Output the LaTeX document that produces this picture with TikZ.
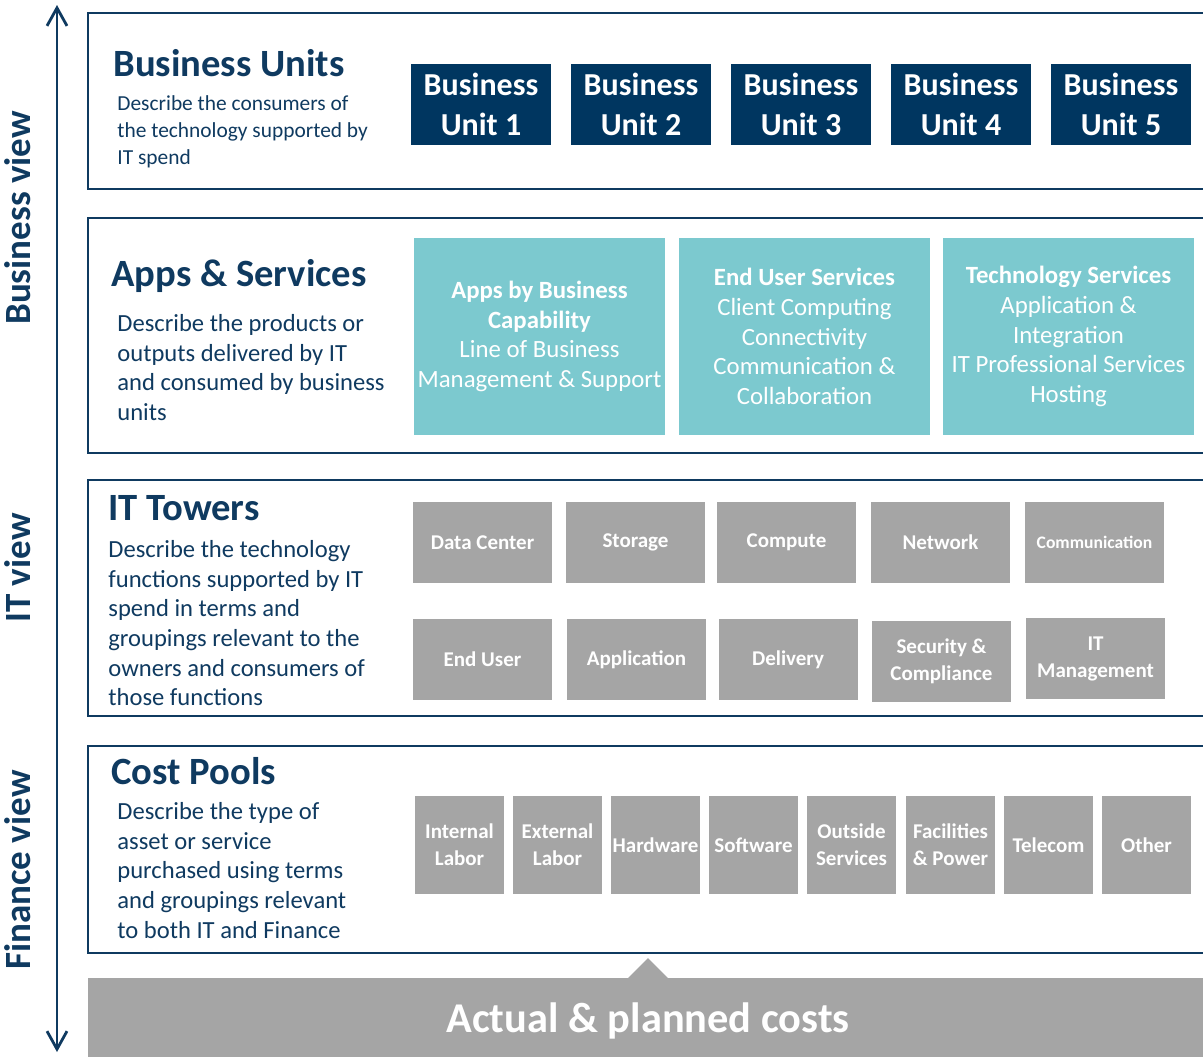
\documentclass[tikz,border=0pt]{standalone}
\usepackage{fontspec}
\setmainfont{Carlito}
\usetikzlibrary{arrows.meta}
\definecolor{navy}{HTML}{0F3A60}
\definecolor{unitblue}{HTML}{003660}
\definecolor{appteal}{HTML}{7CC9CF}
\definecolor{towergrey}{HTML}{A5A5A5}
\begin{document}
\begin{tikzpicture}[x=0.5pt,y=-0.5pt,
    every node/.style={inner sep=0pt,font=\fontsize{10.5}{13.5}\selectfont},
    layer/.style={draw=navy,line width=1.1pt},
    unit/.style={fill=unitblue,text=white,minimum width=70pt,minimum height=40.5pt,
      align=center,font=\fontsize{16}{20}\selectfont\bfseries},
    app/.style={fill=appteal,text=white,minimum width=125.5pt,minimum height=98.5pt,
      align=center,font=\fontsize{12.4}{14.8}\selectfont},
    tower/.style={fill=towergrey,text=white,minimum width=69.5pt,minimum height=40.5pt,
      align=center,font=\fontsize{10.5}{13.5}\selectfont\bfseries},
    pool/.style={tower,minimum width=44.5pt,minimum height=49pt},
    title/.style={anchor=west,text=navy,font=\fontsize{19.3}{23}\selectfont\bfseries},
    desc/.style={anchor=north west,align=left,text=navy,font=\fontsize{12.3}{14.85}\selectfont},
    view/.style={rotate=90,text=navy,font=\fontsize{18.5}{22}\selectfont\bfseries}]
    \useasboundingbox (0,0) rectangle (1203,1056);

    % View axis on the left
    \coordinate (top) at (57,5);
    \coordinate (bot) at (57,1052);
    \draw[navy,line width=1.4pt,
      {Straight Barb[length=9pt,width=10pt]}-{Straight Barb[length=9pt,width=10pt]}] (top) -- (bot);
    \node[view] (bv)  at (18,218) {Business view};
    \node[view] (itv) at (18,568) {IT view};
    \node[view] (fv)  at (18,870) {Finance view};

    % Layer 1: business units
    \draw[layer] (88,13) rectangle (1220,189);
    \node[title] (bu) at (113,63) {Business Units};
    \node[desc,font=\fontsize{10.7}{13.5}\selectfont] (budesc) at (117,95)
      {Describe the consumers of\\the technology supported by\\IT spend};
    \node[unit] (bu1) at (481,104.5)  {Business\\Unit 1};
    \node[unit] (bu2) at (641,104.5)  {Business\\Unit 2};
    \node[unit] (bu3) at (801,104.5)  {Business\\Unit 3};
    \node[unit] (bu4) at (961,104.5)  {Business\\Unit 4};
    \node[unit] (bu5) at (1121,104.5) {Business\\Unit 5};

    % Layer 2: apps and services
    \draw[layer] (88,218) rectangle (1220,453);
    \node[title] (as) at (111,276) {Apps \& Services};
    \node[desc] (asdesc) at (117,314)
      {Describe the products or\\outputs delivered by IT\\and consumed by business\\units};
    \node[app] (app1) at (539.5,336.5)
      {\textbf{Apps by Business}\\\textbf{Capability}\\Line of Business\\Management \& Support};
    \node[app] (app2) at (804.5,336.5)
      {\textbf{End User Services}\\Client Computing\\Connectivity\\Communication \&\\Collaboration};
    \node[app] (app3) at (1068.5,336.5)
      {\textbf{Technology Services}\\Application \&\\Integration\\IT Professional Services\\Hosting};

    % Layer 3: IT towers
    \draw[layer] (88,480) rectangle (1220,716);
    \node[title] (itt) at (108,508) {IT Towers};
    \node[desc] (ittdesc) at (108,540)
      {Describe the technology\\functions supported by IT\\spend in terms and\\groupings relevant to the\\owners and consumers of\\those functions};
    \node[tower] (dc)   at (482.5,542.5)  {Data Center};
    \node[tower] (stor) at (635.5,542.5)  {Storage};
    \node[tower] (comp) at (786.5,542.5)  {Compute};
    \node[tower] (net)  at (940.5,542.5)  {Network};
    \node[tower,font=\fontsize{8.8}{11}\selectfont\bfseries] (comm) at (1094.5,542.5) {Communication};
    \node[tower] (eu)   at (482.5,659.5)  {End User};
    \node[tower] (appl) at (636.5,659.5)  {Application};
    \node[tower] (del)  at (788,659.5)    {Delivery};
    \node[tower] (sec)  at (941.5,661.5)  {Security \&\\Compliance};
    \node[tower] (itm)  at (1095.5,658.5) {IT\\Management};

    % Layer 4: cost pools
    \draw[layer] (88,746) rectangle (1220,953);
    \node[title] (cp) at (111,771) {Cost Pools};
    \node[desc] (cpdesc) at (117,802)
      {Describe the type of\\asset or service\\purchased using terms\\and groupings relevant\\to both IT and Finance};
    \node[pool] (il)  at (459.5,845)  {Internal\\Labor};
    \node[pool] (el)  at (557.5,845)  {External\\Labor};
    \node[pool] (hw)  at (655.5,845)  {Hardware};
    \node[pool] (sw)  at (753.5,845)  {Software};
    \node[pool] (os)  at (851.5,845)  {Outside\\Services};
    \node[pool] (fp)  at (950.5,845)  {Facilities\\\& Power};
    \node[pool] (tel) at (1048.5,845) {Telecom};
    \node[pool] (oth) at (1146.5,845) {Other};

    % Base band with notch
    \fill[towergrey] (88,978) -- (628,978) -- (648,958) -- (668,978) -- (1220,978)
      -- (1220,1070) -- (88,1070) -- cycle;
    \node[text=white,font=\fontsize{21.2}{25}\selectfont\bfseries] (costs) at (648,1021)
      {Actual \& planned costs};
  \end{tikzpicture}
\end{document}
